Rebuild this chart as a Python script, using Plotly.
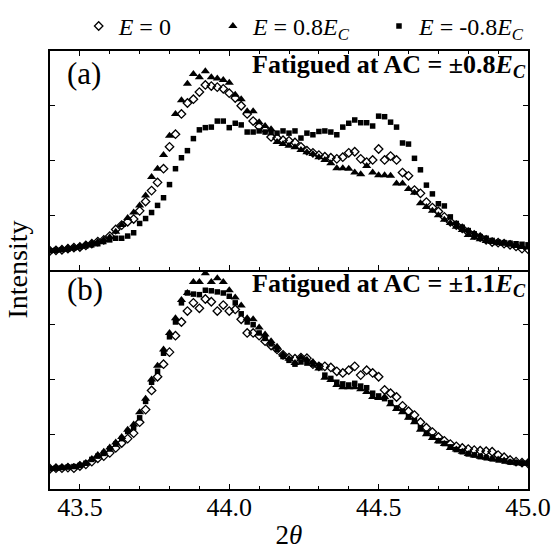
import plotly.graph_objects as go
from plotly.subplots import make_subplots

two_theta = [round(43.40 + 0.02 * i, 2) for i in range(81)]

# Panel (a): fatigued at AC = ±0.8 Ec
e0_a = [0.35, 0.36, 0.37, 0.39, 0.41, 0.42, 0.45, 0.48, 0.52, 0.55,
        0.62, 0.74, 0.82, 0.88, 0.93, 1.08, 1.25, 1.45, 1.60, 1.85,
        2.25, 2.48, 2.85, 3.05, 3.12, 3.25, 3.38, 3.36, 3.34, 3.31,
        3.23, 3.14, 3.00, 2.85, 2.72, 2.62, 2.56, 2.43, 2.41, 2.37,
        2.36, 2.33, 2.25, 2.18, 2.14, 2.10, 2.07, 2.05, 2.03, 2.06,
        2.14, 2.16, 2.03, 1.97, 2.01, 2.21, 2.01, 2.08, 2.01, 1.78,
        1.72, 1.46, 1.40, 1.24, 1.14, 1.07, 0.97, 0.88, 0.82, 0.76,
        0.69, 0.64, 0.60, 0.55, 0.51, 0.50, 0.48, 0.46, 0.43, 0.39, 0.38]
pos_a = [0.35, 0.36, 0.38, 0.40, 0.41, 0.43, 0.46, 0.49, 0.51, 0.55,
         0.60, 0.70, 0.82, 0.95, 1.05, 1.18, 1.36, 1.70, 1.85, 2.10,
         2.45, 2.85, 3.10, 3.40, 3.58, 3.52, 3.63, 3.52, 3.50, 3.47,
         3.42, 3.20, 3.12, 2.90, 2.90, 2.70, 2.63, 2.57, 2.34, 2.30,
         2.27, 2.24, 2.19, 2.15, 2.12, 2.06, 2.01, 1.95, 1.86, 1.86,
         1.85, 1.78, 1.75, 1.90, 1.78, 1.73, 1.73, 1.72, 1.58, 1.58,
         1.48, 1.41, 1.22, 1.15, 1.08, 1.00, 0.92, 0.86, 0.79, 0.73,
         0.64, 0.59, 0.56, 0.53, 0.51, 0.49, 0.48, 0.46, 0.44, 0.42, 0.41]
neg_a = [0.35, 0.36, 0.37, 0.38, 0.40, 0.42, 0.44, 0.46, 0.48, 0.52,
         0.55, 0.58, 0.58, 0.62, 0.68, 0.85, 0.94, 1.05, 1.18, 1.32,
         1.56, 1.85, 2.05, 2.18, 2.40, 2.56, 2.60, 2.61, 2.72, 2.72,
         2.60, 2.68, 2.65, 2.52, 2.52, 2.54, 2.52, 2.51, 2.50, 2.54,
         2.50, 2.54, 2.41, 2.50, 2.47, 2.53, 2.54, 2.52, 2.47, 2.61,
         2.68, 2.74, 2.69, 2.69, 2.63, 2.81, 2.80, 2.70, 2.61, 2.32,
         2.30, 2.04, 1.83, 1.55, 1.39, 1.21, 1.17, 0.97, 0.85, 0.78,
         0.72, 0.66, 0.61, 0.58, 0.54, 0.51, 0.50, 0.49, 0.48, 0.47, 0.46]

# Panel (b): fatigued at AC = ±1.1 Ec
e0_b = [0.37, 0.38, 0.38, 0.39, 0.38, 0.42, 0.45, 0.50, 0.56, 0.60,
        0.66, 0.75, 0.84, 0.92, 1.02, 1.22, 1.45, 1.80, 2.05, 2.28,
        2.50, 2.80, 3.05, 3.25, 3.40, 3.30, 3.47, 3.42, 3.25, 3.36,
        3.25, 3.28, 3.10, 2.85, 2.85, 2.80, 2.70, 2.62, 2.55, 2.45,
        2.40, 2.38, 2.40, 2.39, 2.28, 2.24, 2.24, 2.22, 2.15, 2.12,
        2.17, 2.24, 2.08, 2.17, 2.12, 2.05, 1.81, 1.75, 1.68, 1.52,
        1.42, 1.35, 1.22, 1.12, 1.04, 0.95, 0.88, 0.82, 0.78, 0.75,
        0.73, 0.71, 0.70, 0.69, 0.68, 0.62, 0.58, 0.53, 0.50, 0.48, 0.47]
pos_b = [0.37, 0.38, 0.39, 0.40, 0.40, 0.44, 0.47, 0.55, 0.62, 0.68,
         0.76, 0.85, 0.95, 1.08, 1.18, 1.40, 1.65, 2.00, 2.25, 2.55,
         2.85, 3.12, 3.45, 3.58, 3.78, 3.78, 3.94, 3.78, 3.85, 3.78,
         3.63, 3.50, 3.35, 3.12, 3.10, 2.95, 2.82, 2.70, 2.60, 2.45,
         2.38, 2.30, 2.40, 2.36, 2.32, 2.20, 2.03, 1.99, 1.90, 1.86,
         1.86, 1.86, 1.82, 1.77, 1.68, 1.66, 1.68, 1.55, 1.46, 1.40,
         1.30, 1.22, 1.08, 1.00, 0.93, 0.87, 0.82, 0.75, 0.72, 0.68,
         0.64, 0.61, 0.59, 0.57, 0.55, 0.54, 0.52, 0.49, 0.48, 0.47, 0.47]
neg_b = [0.37, 0.38, 0.39, 0.40, 0.41, 0.43, 0.47, 0.54, 0.60, 0.65,
         0.73, 0.82, 0.92, 1.05, 1.12, 1.30, 1.60, 1.95, 2.15, 2.48,
         2.78, 3.05, 3.40, 3.58, 3.56, 3.55, 3.63, 3.62, 3.60, 3.58,
         3.52, 3.40, 3.20, 3.05, 3.00, 2.85, 2.75, 2.65, 2.55, 2.42,
         2.35, 2.28, 2.32, 2.30, 2.28, 2.25, 2.08, 2.02, 1.95, 1.92,
         1.90, 1.93, 1.88, 1.85, 1.75, 1.70, 1.65, 1.58, 1.48, 1.42,
         1.32, 1.25, 1.12, 1.02, 0.95, 0.88, 0.83, 0.77, 0.72, 0.68,
         0.64, 0.62, 0.59, 0.57, 0.55, 0.53, 0.51, 0.49, 0.48, 0.47, 0.47]

x_ticks = [43.5, 44.0, 44.5, 45.0]
x_tick_labels = ["43.5", "44.0", "44.5", "45.0"]

series_names = ["<i>E</i> = 0" + "\u00a0" * 6,
                "<i>E</i> = 0.8<i>E<sub>C</sub></i>" + "\u00a0" * 4,
                "<i>E</i> = -0.8<i>E<sub>C</sub></i>"]

FONT = "Liberation Serif, Times New Roman, serif"

fig = make_subplots(rows=2, cols=1, shared_xaxes=True, vertical_spacing=0)

styles = [
    dict(symbol="diamond-open", size=6.5, color="black", line=dict(width=1.3, color="black")),
    dict(symbol="triangle-up", size=8, color="black", line=dict(width=0)),
    dict(symbol="square", size=5.5, color="black", line=dict(width=0)),
]

panels = [(1, [e0_a, pos_a, neg_a]), (2, [e0_b, pos_b, neg_b])]
for row, ys in panels:
    for k, y in enumerate(ys):
        fig.add_trace(go.Scatter(
            x=two_theta, y=y, mode="markers", name=series_names[k],
            marker=styles[k], showlegend=(row == 1)), row=row, col=1)

axis_common = dict(showline=True, linecolor="black", linewidth=1.5,
                   ticks="inside", ticklen=5, tickcolor="black", showgrid=False,
                   zeroline=False, automargin=False)

for row in (1, 2):
    fig.update_xaxes(range=[43.4, 45.0], tickvals=x_ticks, ticktext=x_tick_labels,
                     minor=dict(dtick=0.1, ticks="inside", ticklen=3, tickcolor="black"),
                     showticklabels=(row == 2), ticklabelstandoff=-6,
                     mirror=("allticks" if row == 1 else False),
                     tickfont=dict(family=FONT, size=26, color="black"),
                     row=row, col=1, **axis_common)
    fig.update_yaxes(range=[0, 4], tickvals=[1, 2, 3], showticklabels=False,
                     mirror="allticks", row=row, col=1, **axis_common)

fig.update_xaxes(title=dict(text="2<i>θ</i>", font=dict(family=FONT, size=27, color="black"),
                            standoff=4), row=2, col=1)

fig.add_annotation(text="Intensity", xref="paper", yref="paper", x=-0.07, y=0.5,
                   textangle=-90, showarrow=False, xanchor="center", yanchor="middle",
                   font=dict(family=FONT, size=28, color="black"))

fig.add_annotation(text="(a)", xref="paper", yref="paper", x=0.031, y=0.948,
                   showarrow=False, xanchor="left", yanchor="middle",
                   font=dict(family=FONT, size=31, color="black"))
fig.add_annotation(text="(b)", xref="paper", yref="paper", x=0.031, y=0.455,
                   showarrow=False, xanchor="left", yanchor="middle",
                   font=dict(family=FONT, size=31, color="black"))
fig.add_annotation(text="<b>Fatigued at AC = ±0.8<i>E<sub>C</sub></i></b>", xref="paper", yref="paper",
                   x=1.0, y=0.966, showarrow=False, xanchor="right", yanchor="middle",
                   font=dict(family=FONT, size=26, color="black"))
fig.add_annotation(text="<b>Fatigued at AC = ±1.1<i>E<sub>C</sub></i></b>", xref="paper", yref="paper",
                   x=1.0, y=0.466, showarrow=False, xanchor="right", yanchor="middle",
                   font=dict(family=FONT, size=26, color="black"))

fig.update_layout(
    width=559, height=556,
    margin=dict(l=50, r=31, t=51, b=67),
    paper_bgcolor="white", plot_bgcolor="white",
    font=dict(family=FONT, size=22, color="black"),
    legend=dict(orientation="h", x=0.06, xref="paper", y=0.993, yref="container",
                xanchor="left", yanchor="top",
                font=dict(family=FONT, size=24, color="black"),
                itemwidth=30, bgcolor="rgba(0,0,0,0)"),
)

fig.write_html("out.html", config={"displayModeBar": False},
               post_script="document.body.style.margin='0';")
